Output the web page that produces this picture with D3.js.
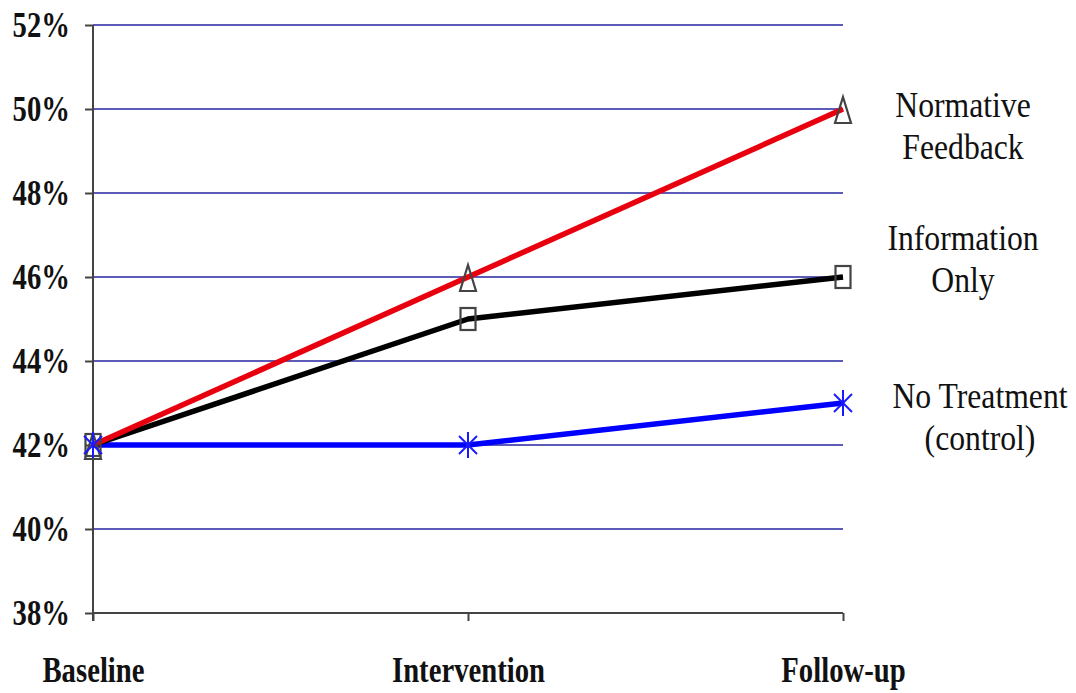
<!DOCTYPE html>
<html><head><meta charset="utf-8">
<script src="https://cdn.jsdelivr.net/npm/d3@7"></script>
<style>body{margin:0;background:#fff}svg{display:block}</style>
</head><body>
<svg id="chart" width="1076" height="693"></svg>
<script>
const categories = ["Baseline", "Intervention", "Follow-up"];
const yTicks = [38, 40, 42, 44, 46, 48, 50, 52];
const normativeFeedback = [42, 46, 50];
const informationOnly = [42, 45, 46];
const noTreatment = [42, 42, 43];
const seriesNames = [["Normative", "Feedback"], ["Information", "Only"], ["No Treatment", "(control)"]];
const seriesColors = ["#e8000e", "#000000", "#0000ff"];
const seriesMarkers = ["triangle", "square", "asterisk"];

const series = [
  {name: seriesNames[0], values: normativeFeedback, color: seriesColors[0], marker: seriesMarkers[0]},
  {name: seriesNames[1], values: informationOnly, color: seriesColors[1], marker: seriesMarkers[1]},
  {name: seriesNames[2], values: noTreatment, color: seriesColors[2], marker: seriesMarkers[2]}
];

const svg = d3.select("#chart");
const x = d3.scalePoint().domain(categories).range([93, 843]);
const y = d3.scaleLinear().domain([38, 52]).range([613, 25]);

// gridlines
svg.append("g").selectAll("line").data(yTicks.filter(t => t > 38)).join("line")
  .attr("x1", 93).attr("x2", 843)
  .attr("y1", d => y(d)).attr("y2", d => y(d))
  .attr("stroke", "#5c5cb8").attr("stroke-width", 2.2);

// y axis
const yAxis = svg.append("g").attr("transform", "translate(93,0)")
  .call(d3.axisLeft(y).tickValues(yTicks).tickSize(8).tickFormat(d => d + "%"));
yAxis.select(".domain").attr("stroke", "#444").attr("stroke-width", 2).attr("d", `M0,${y(52)}V${y(38)+8}`);
yAxis.selectAll(".tick line").attr("stroke", "#444").attr("stroke-width", 2);
yAxis.selectAll(".tick text")
  .attr("font-family", "Liberation Serif, Times New Roman, serif")
  .attr("font-weight", "bold").attr("font-size", 35).attr("fill", "#111")
  .attr("text-anchor", "end")
  .attr("x", 0).attr("dy", "0.34em")
  .attr("transform", "translate(-23,0) scale(0.82,1)");

// x axis
const xAxis = svg.append("g").attr("transform", `translate(0,${y(38)})`)
  .call(d3.axisBottom(x).tickSize(8).tickSizeOuter(0));
xAxis.select(".domain").attr("stroke", "#444").attr("stroke-width", 2).attr("d", `M93,0H843`);
xAxis.selectAll(".tick line").attr("stroke", "#444").attr("stroke-width", 2);
xAxis.selectAll(".tick text")
  .attr("font-family", "Liberation Serif, Times New Roman, serif")
  .attr("font-weight", "bold").attr("font-size", 35).attr("fill", "#111")
  .attr("y", 0).attr("dy", 0)
  .attr("transform", "translate(0,69) scale(0.82,1)");

// lines
const line = d3.line().x((d, i) => x(categories[i])).y(d => y(d));
const drawOrder = [2, 1, 0];
svg.append("g").selectAll("path").data(drawOrder.map(i => series[i])).join("path")
  .attr("d", d => line(d.values))
  .attr("fill", "none").attr("stroke", d => d.color).attr("stroke-width", 5.5)
  .attr("stroke-linejoin", "round");

// markers
const mg = svg.append("g");
[1, 0, 2].forEach(si => {
  const s = series[si];
  s.values.forEach((v, i) => {
    const cx = x(categories[i]), cy = y(v);
    if (s.marker === "triangle") {
      mg.append("path").attr("d", `M${cx},${cy-12}L${cx+8},${cy+14}L${cx-8},${cy+14}Z`)
        .attr("fill", "none").attr("stroke", "#444").attr("stroke-width", 2.2);
    } else if (s.marker === "square") {
      mg.append("rect").attr("x", cx-7.5).attr("y", cy-11).attr("width", 15).attr("height", 22)
        .attr("fill", "none").attr("stroke", "#444").attr("stroke-width", 2.2);
    } else {
      const g = mg.append("g").attr("stroke", "#1a1aff").attr("stroke-width", 2);
      g.append("line").attr("x1", cx).attr("x2", cx).attr("y1", cy-13).attr("y2", cy+13);
      g.append("line").attr("x1", cx-9).attr("x2", cx+9).attr("y1", cy-9).attr("y2", cy+9);
      g.append("line").attr("x1", cx-9).attr("x2", cx+9).attr("y1", cy+9).attr("y2", cy-9);
    }
  });
});

// series labels
const labelPos = [[963, 117], [963, 250], [980, 408]];
series.forEach((s, i) => {
  const t = svg.append("text")
    .attr("font-family", "Liberation Serif, Times New Roman, serif")
    .attr("font-size", 36).attr("fill", "#111").attr("text-anchor", "middle")
    .attr("transform", `translate(${labelPos[i][0]},${labelPos[i][1]}) scale(0.88,1)`);
  s.name.forEach((n, j) => t.append("tspan").attr("x", 0).attr("y", j * 42).text(n));
});
</script>
</body></html>
